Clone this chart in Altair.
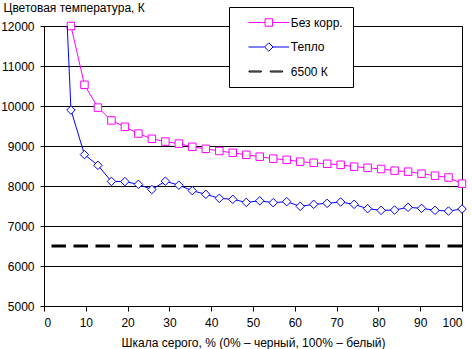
import altair as alt
import pandas as pd

# Gray level, % (steps of 1/31)
gray_pct = [3.23, 6.45, 9.68, 12.9, 16.13, 19.35, 22.58, 25.81, 29.03, 32.26,
            35.48, 38.71, 41.94, 45.16, 48.39, 51.61, 54.84, 58.06, 61.29, 64.52,
            67.74, 70.97, 74.19, 77.42, 80.65, 83.87, 87.1, 90.32, 93.55, 96.77, 100]

# "Без корр." starts at the 2nd gray level
no_corr = [12000, 10530, 9960, 9640, 9480, 9310, 9180, 9110, 9060, 8980,
           8930, 8875, 8830, 8780, 8733, 8683, 8655, 8608, 8580, 8555,
           8530, 8483, 8455, 8425, 8383, 8358, 8308, 8258, 8212, 8058]

warm = [17500, 9900, 8785, 8517, 8115, 8110, 8042, 7912, 8120, 8020,
        7883, 7792, 7692, 7667, 7590, 7630, 7583, 7608, 7492, 7542,
        7567, 7600, 7542, 7433, 7392, 7400, 7467, 7442, 7392, 7375, 7425]

ref_value = 6500

series_names = ["Без корр.", "Тепло", "6500 К"]
series_colors = ["#FF00FF", "#0000FF", "#000000"]
# legend glyphs (unit = 3 px): line with square, line with diamond, two dashes
legend_paths = [
    "M-6.77,0H-1.25M1.25,0H6.77M-1.25,-1.25H1.25V1.25H-1.25Z",
    "M-6.77,0H-1.4M1.4,0H6.77M-1.4,0L0,-1.4L1.4,0L0,1.4Z",
    "M-6.6,-0.17H-2.5V0.17H-6.6Z M0.5,-0.17H4.6V0.17H0.5Z",
]

y_title = "Цветовая температура, К"
x_title = "Шкала серого, % (0% – черный, 100% – белый)"

FONT = "Liberation Sans"

df_nc = pd.DataFrame({"x": gray_pct[1:], "y": no_corr})
df_w = pd.DataFrame({"x": gray_pct, "y": warm})
df_ref = pd.DataFrame({"y": [ref_value]})
df_leg = pd.DataFrame({"series": series_names})

xs = alt.Scale(domain=[0, 100], nice=False, zero=False)
ys = alt.Scale(domain=[5000, 12000], nice=False, zero=False)
cs = alt.Scale(domain=series_names, range=series_colors)

x_axis = alt.Axis(values=list(range(0, 101, 10)), title=x_title, grid=False,
                  tickSize=5, labelPadding=6, titlePadding=9, format="d")
y_axis = alt.Axis(values=list(range(5000, 12001, 1000)), title=y_title,
                  titleAngle=0, titleAlign="left", titleBaseline="alphabetic",
                  titleX=-41, titleY=-15, grid=True, tickSize=4,
                  labelPadding=6, format="d")

X = alt.X("x:Q", scale=xs, axis=x_axis)
Y = alt.Y("y:Q", scale=ys, axis=y_axis)

ref = alt.Chart(df_ref).mark_rule(strokeWidth=3, strokeDash=[14.5, 7.5],
                                  color=series_colors[2]).encode(
    y=alt.Y("y:Q", scale=ys, axis=y_axis))

line_nc = alt.Chart(df_nc).mark_line(strokeWidth=1, clip=True, color=series_colors[0]).encode(x=X, y=Y)
pts_nc = alt.Chart(df_nc).mark_point(shape="square", size=56, fill="white", filled=False,
                                     stroke=series_colors[0], strokeWidth=1, opacity=1,
                                     clip=False).encode(x=X, y=Y)
line_w = alt.Chart(df_w).mark_line(strokeWidth=1, clip=True, color=series_colors[1]).encode(x=X, y=Y)
pts_w = alt.Chart(df_w).mark_point(shape="diamond", size=72, fill="white", filled=False,
                                   stroke=series_colors[1], strokeWidth=1, opacity=1,
                                   clip=False).encode(x=X, y=Y)

leg = alt.Legend(title=None, orient="none", legendX=185, legendY=-19,
                 symbolSize=36, symbolStrokeWidth=1, symbolOffset=24.3, symbolOpacity=1,
                 labelFont=FONT, labelFontSize=12, labelColor="black", labelOffset=16,
                 padding=9.5, rowPadding=11.5, strokeColor="black", fillColor="white")

legend_layer = alt.Chart(df_leg).mark_point(filled=False, opacity=0).encode(
    color=alt.Color("series:N", scale=cs, legend=leg),
    shape=alt.Shape("series:N", scale=alt.Scale(domain=series_names, range=legend_paths), legend=leg),
)

chart = alt.layer(ref, line_nc, pts_nc, line_w, pts_w, legend_layer).properties(
    width=418, height=280,
    background="white",
    autosize=alt.AutoSizeParams(type="none"),
    padding={"left": 44, "top": 26, "right": 10, "bottom": 43},
).configure_view(stroke="black", strokeWidth=1).configure_axis(
    domainColor="black", tickColor="black", gridColor="black", gridWidth=1,
    gridOpacity=1, labelColor="black", titleColor="black", labelFont=FONT, titleFont=FONT,
    labelFontSize=12, titleFontSize=12, titleFontWeight="normal",
)

chart.save("out.html", embed_options={"renderer": "svg", "actions": False})
